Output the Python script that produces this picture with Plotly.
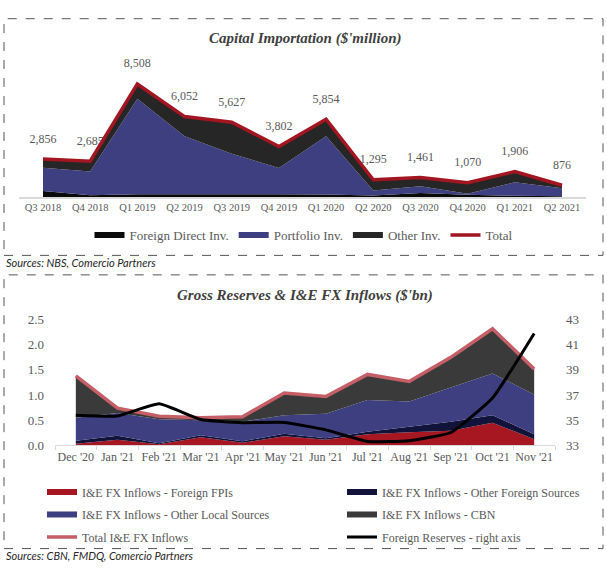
import plotly.graph_objects as go

W, H = 607, 578

# ---------------- Data: Capital Importation ($'million) ----------------
quarters = ["Q3 2018", "Q4 2018", "Q1 2019", "Q2 2019", "Q3 2019", "Q4 2019",
            "Q1 2020", "Q2 2020", "Q3 2020", "Q4 2020", "Q1 2021", "Q2 2021"]
fdi = [440, 125, 210, 210, 200, 200, 190, 100, 290, 170, 80, 60]
portfolio = [1760, 1782, 7176, 4360, 3050, 1978, 4380, 390, 515, 70, 1020, 600]
other_inv = [656, 778, 1122, 1482, 2377, 1624, 1284, 805, 656, 830, 806, 216]
total_ci = [2856, 2685, 8508, 6052, 5627, 3802, 5854, 1295, 1461, 1070, 1906, 876]

# ---------------- Data: Gross Reserves & I&E FX Inflows ($'bn) ----------------
months = ["Dec '20", "Jan '21", "Feb '21", "Mar '21", "Apr '21", "May '21",
          "Jun '21", "Jul '21", "Aug '21", "Sep '21", "Oct '21", "Nov '21"]
fpi = [0.03, 0.11, 0.02, 0.16, 0.05, 0.18, 0.11, 0.22, 0.26, 0.29, 0.45, 0.12]
other_foreign = [0.06, 0.08, 0.02, 0.04, 0.03, 0.05, 0.03, 0.05, 0.11, 0.18, 0.15, 0.10]
other_local = [0.46, 0.455, 0.48, 0.30, 0.39, 0.37, 0.49, 0.63, 0.50, 0.68, 0.83, 0.79]
cbn = [0.83, 0.095, 0.06, 0.05, 0.10, 0.44, 0.34, 0.51, 0.40, 0.60, 0.89, 0.51]
total_ie = [1.38, 0.74, 0.58, 0.55, 0.57, 1.04, 0.97, 1.41, 1.27, 1.75, 2.32, 1.52]
reserves = [35.40, 35.34, 36.30, 35.05, 34.80, 34.82, 34.23, 33.31, 33.37, 34.02, 36.77, 41.90]


def fx(px):
    return px / W


def fy(py):
    return 1 - py / H


SERIF = "Liberation Serif"
GREY = "#595959"
LEFT_W = 255   # legend entry width, left column
RIGHT_W = 205  # legend entry width, right column

fig = go.Figure()

# ---- top chart ----
fig.add_trace(go.Scatter(x=quarters, y=fdi, name="Foreign Direct Inv.", stackgroup="ci",
                         mode="none", fillcolor="#0a0a0a", xaxis="x", yaxis="y", legend="legend"))
fig.add_trace(go.Scatter(x=quarters, y=portfolio, name="Portfolio Inv.", stackgroup="ci",
                         mode="none", fillcolor="#3d3f80", xaxis="x", yaxis="y", legend="legend"))
fig.add_trace(go.Scatter(x=quarters, y=other_inv, name="Other Inv.", stackgroup="ci",
                         mode="none", fillcolor="#262626", xaxis="x", yaxis="y", legend="legend"))
fig.add_trace(go.Scatter(x=quarters, y=total_ci, mode="markers+text",
                         text=[f"{v:,}" for v in total_ci], textposition="top center",
                         textfont=dict(family=SERIF, size=12, color=GREY),
                         marker=dict(size=20, color="rgba(0,0,0,0)"), cliponaxis=False,
                         showlegend=False, hoverinfo="skip", xaxis="x", yaxis="y"))
fig.add_trace(go.Scatter(x=quarters, y=total_ci, name="Total", mode="lines",
                         line=dict(color="#a31621", width=3.5), xaxis="x", yaxis="y",
                         legend="legend"))

# ---- bottom chart ----
fig.add_trace(go.Scatter(x=months, y=fpi, name="I&E FX Inflows - Foreign FPIs", stackgroup="ie",
                         mode="none", fillcolor="#a61722", xaxis="x2", yaxis="y2",
                         legend="legend2", legendwidth=LEFT_W))
fig.add_trace(go.Scatter(x=months, y=other_foreign, name="I&E FX Inflows - Other Foreign Sources",
                         stackgroup="ie", mode="none", fillcolor="#12133a", xaxis="x2", yaxis="y2",
                         legend="legend2", legendwidth=RIGHT_W))
fig.add_trace(go.Scatter(x=months, y=other_local, name="I&E FX Inflows - Other Local Sources",
                         stackgroup="ie", mode="none", fillcolor="#3d3f80", xaxis="x2", yaxis="y2",
                         legend="legend3", legendwidth=LEFT_W))
fig.add_trace(go.Scatter(x=months, y=cbn, name="I&E FX Inflows - CBN", stackgroup="ie",
                         mode="none", fillcolor="#3a3a3a", xaxis="x2", yaxis="y2",
                         legend="legend3", legendwidth=RIGHT_W))
fig.add_trace(go.Scatter(x=months, y=total_ie, name="Total I&E FX Inflows", mode="lines",
                         line=dict(color="#c55e66", width=3.5), xaxis="x2", yaxis="y2",
                         legend="legend4", legendwidth=LEFT_W))
fig.add_trace(go.Scatter(x=months, y=reserves, name="Foreign Reserves - right axis", mode="lines",
                         line=dict(color="#000000", width=3, shape="spline", smoothing=0.4),
                         xaxis="x2", yaxis="y3", legend="legend4", legendwidth=RIGHT_W))

axis_font = dict(family=SERIF, size=10.5, color=GREY)
axis_font2 = dict(family=SERIF, size=12, color=GREY)

leg_common = dict(orientation="h", bgcolor="rgba(0,0,0,0)", yanchor="middle",
                  traceorder="normal",
                  font=dict(family=SERIF, size=12, color=GREY), itemwidth=30)

fig.update_layout(
    width=W, height=H,
    margin=dict(l=0, r=0, t=0, b=0),
    paper_bgcolor="white", plot_bgcolor="white",
    hovermode=False,
    xaxis=dict(domain=[fx(19.4), fx(585.6)], range=[-0.5, 11.5], type="category",
               showline=True, linecolor="#d9d9d9", linewidth=1.5, showgrid=False,
               ticks="", tickfont=axis_font, tickangle=0, anchor="y", fixedrange=True),
    yaxis=dict(domain=[fy(195), fy(60)], range=[0, 9902], visible=False, showgrid=False,
               anchor="x", fixedrange=True),
    xaxis2=dict(domain=[fx(55), fx(555)], range=[-0.5, 11.5], type="category",
                showline=True, linecolor="#d9d9d9", linewidth=1, showgrid=False,
                ticks="outside", tickson="boundaries", ticklen=4, tickcolor="#d9d9d9",
                tickfont=axis_font2, tickangle=0, anchor="y2", fixedrange=True),
    yaxis2=dict(domain=[fy(450), fy(321)], range=[0, 2.5], dtick=0.5, tickformat=".1f",
                showgrid=False, zeroline=False, showline=False, ticks="",
                tickfont=dict(family=SERIF, size=13, color=GREY), ticklabelstandoff=10,
                anchor="x2", fixedrange=True),
    yaxis3=dict(domain=[fy(450), fy(321)], range=[33, 43], tickvals=[33, 35, 37, 39, 41, 43],
                overlaying="y2", side="right", showgrid=False, zeroline=False, showline=False,
                ticks="", tickfont=dict(family=SERIF, size=13, color=GREY), ticklabelstandoff=10,
                anchor="x2", fixedrange=True),
    legend=dict(leg_common, x=0.5, xanchor="center", y=fy(234),
                font=dict(family=SERIF, size=13, color=GREY)),
    legend2=dict(leg_common, x=fx(42), xanchor="left", y=fy(498)),
    legend3=dict(leg_common, x=fx(42), xanchor="left", y=fy(521)),
    legend4=dict(leg_common, x=fx(42), xanchor="left", y=fy(544)),
    shapes=[
        dict(type="rect", xref="paper", yref="paper", x0=fx(4), x1=fx(603), y0=fy(255), y1=fy(12),
             line=dict(color="#555555", width=1, dash="dash")),
        dict(type="rect", xref="paper", yref="paper", x0=fx(4), x1=fx(603), y0=fy(556), y1=fy(275),
             line=dict(color="#555555", width=1, dash="dash")),
    ],
    annotations=[
        dict(text="Capital Importation ($'million)", x=fx(305), y=fy(32), xref="paper", yref="paper",
             showarrow=False, xanchor="center", yanchor="middle",
             font=dict(family=SERIF, size=15, color="#404040", weight="bold", style="italic")),
        dict(text="Gross Reserves & I&E FX Inflows ($'bn)", x=fx(305), y=fy(296), xref="paper",
             yref="paper", showarrow=False, xanchor="center", yanchor="middle",
             font=dict(family=SERIF, size=15, color="#404040", weight="bold", style="italic")),
        dict(text="Sources: NBS, Comercio Partners", x=fx(4), y=fy(262), xref="paper", yref="paper",
             showarrow=False, xanchor="left", yanchor="middle",
             font=dict(family="Lato", size=11, color="#262626", style="italic")),
        dict(text="Sources: CBN, FMDQ, Comercio Partners", x=fx(4), y=fy(563), xref="paper",
             yref="paper", showarrow=False, xanchor="left", yanchor="middle",
             font=dict(family="Lato", size=11, color="#262626", style="italic")),
    ],
)

fig.write_html("out.html", config={"displayModeBar": False},
               post_script="document.body.style.margin='0';")
